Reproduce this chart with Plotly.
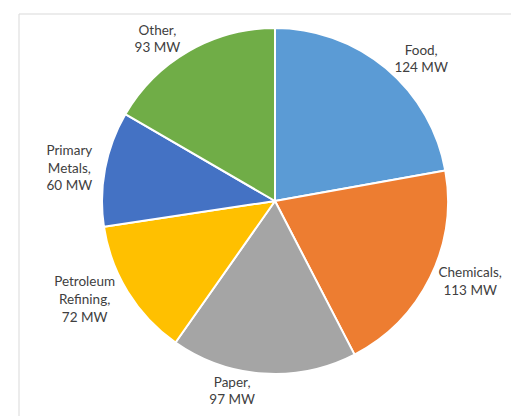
import plotly.graph_objects as go

categories = ["Food", "Chemicals", "Paper", "Petroleum<br>Refining", "Primary<br>Metals", "Other"]
values_mw = [124, 113, 97, 72, 60, 93]
colors = ["#5B9BD5", "#ED7D31", "#A5A5A5", "#FFC000", "#4472C4", "#70AD47"]

W, H = 519, 416
cx, cy, r = 267, 193, 173

fig = go.Figure(go.Pie(
    labels=categories,
    values=values_mw,
    sort=False,
    direction="clockwise",
    rotation=0,
    marker=dict(colors=colors, line=dict(color="white", width=2)),
    texttemplate="%{label},<br>%{value} MW",
    textposition="outside",
    textfont=dict(family="Lato", size=13.5, color="#404040"),
    showlegend=False,
    hoverinfo="label+value",
    domain=dict(x=[(cx - r) / W, (cx + r) / W], y=[(H - cy - r) / H, (H - cy + r) / H]),
))

fig.update_layout(
    width=W, height=H,
    margin=dict(l=0, r=0, t=0, b=0),
    paper_bgcolor="white",
    plot_bgcolor="white",
    shapes=[dict(type="rect", xref="paper", yref="paper",
                 x0=11 / W, x1=1.05, y0=-0.05, y1=1 - 6 / H,
                 line=dict(color="#D9D9D9", width=1), fillcolor="rgba(0,0,0,0)")],
)

fig.write_html("out.html")
